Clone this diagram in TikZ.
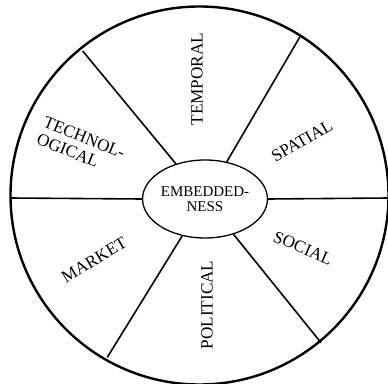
\documentclass[tikz,border=0pt]{standalone}
\usepackage{fontspec}
\setmainfont{Liberation Serif}
\usepackage{tikz}
\usetikzlibrary{shapes.geometric,positioning}

\begin{document}
\begin{tikzpicture}[
    x=1pt, y=1pt,
    rim/.style    = {line width=2.4pt},
    spoke/.style  = {line width=1.6pt},
    core/.style   = {ellipse, draw, line width=1.3pt, minimum width=92pt,
                     minimum height=78pt, inner sep=0pt, align=center,
                     font=\fontsize{15}{15}\selectfont},
    sector/.style = {font=\fontsize{17.2}{18}\selectfont, inner sep=0pt}
  ]
    \useasboundingbox (0,0) rectangle (388,383);

    %% ---- outer wheel ----
    \draw[rim] (199.5,187.5) circle (189);

    %% ---- hub ----
    \node[core] (hub) at (205,184) {EMBEDDED-\\NESS};

    %% ---- spoke ends on the rim ----
    \coordinate (rimW)  at (10.5,185);
    \coordinate (rimE)  at (389,185);
    \coordinate (rimNW) at (82.7,332);
    \coordinate (rimNE) at (300,346.3);
    \coordinate (rimSW) at (107.3,25.7);
    \coordinate (rimSE) at (321,40.3);

    \draw[spoke] (rimW)  -- (hub.west);
    \draw[spoke] (hub.east) -- (rimE);
    \draw[spoke] (rimNW) -- (hub);
    \draw[spoke] (rimNE) -- (hub);
    \draw[spoke] (rimSW) -- (hub);
    \draw[spoke] (rimSE) -- (hub);

    %% ---- sector labels ----
    \node[sector, rotate=90]  (temporal)  at (197,304)   {TEMPORAL};
    \node[sector, rotate=90]  (political) at (207,78)    {POLITICAL};
    \node[sector, rotate=30]  (spatial)   at (302,242)   {SPATIAL};
    \node[sector, rotate=-23] (social)    at (303,135)   {SOCIAL};
    \node[sector, rotate=31]  (market)    at (94,123)    {MARKET};
    \node[sector, rotate=-22, align=left] (techno) at (81,237)
      {TECHNOL-\\OGICAL};

  \end{tikzpicture}
\end{document}
